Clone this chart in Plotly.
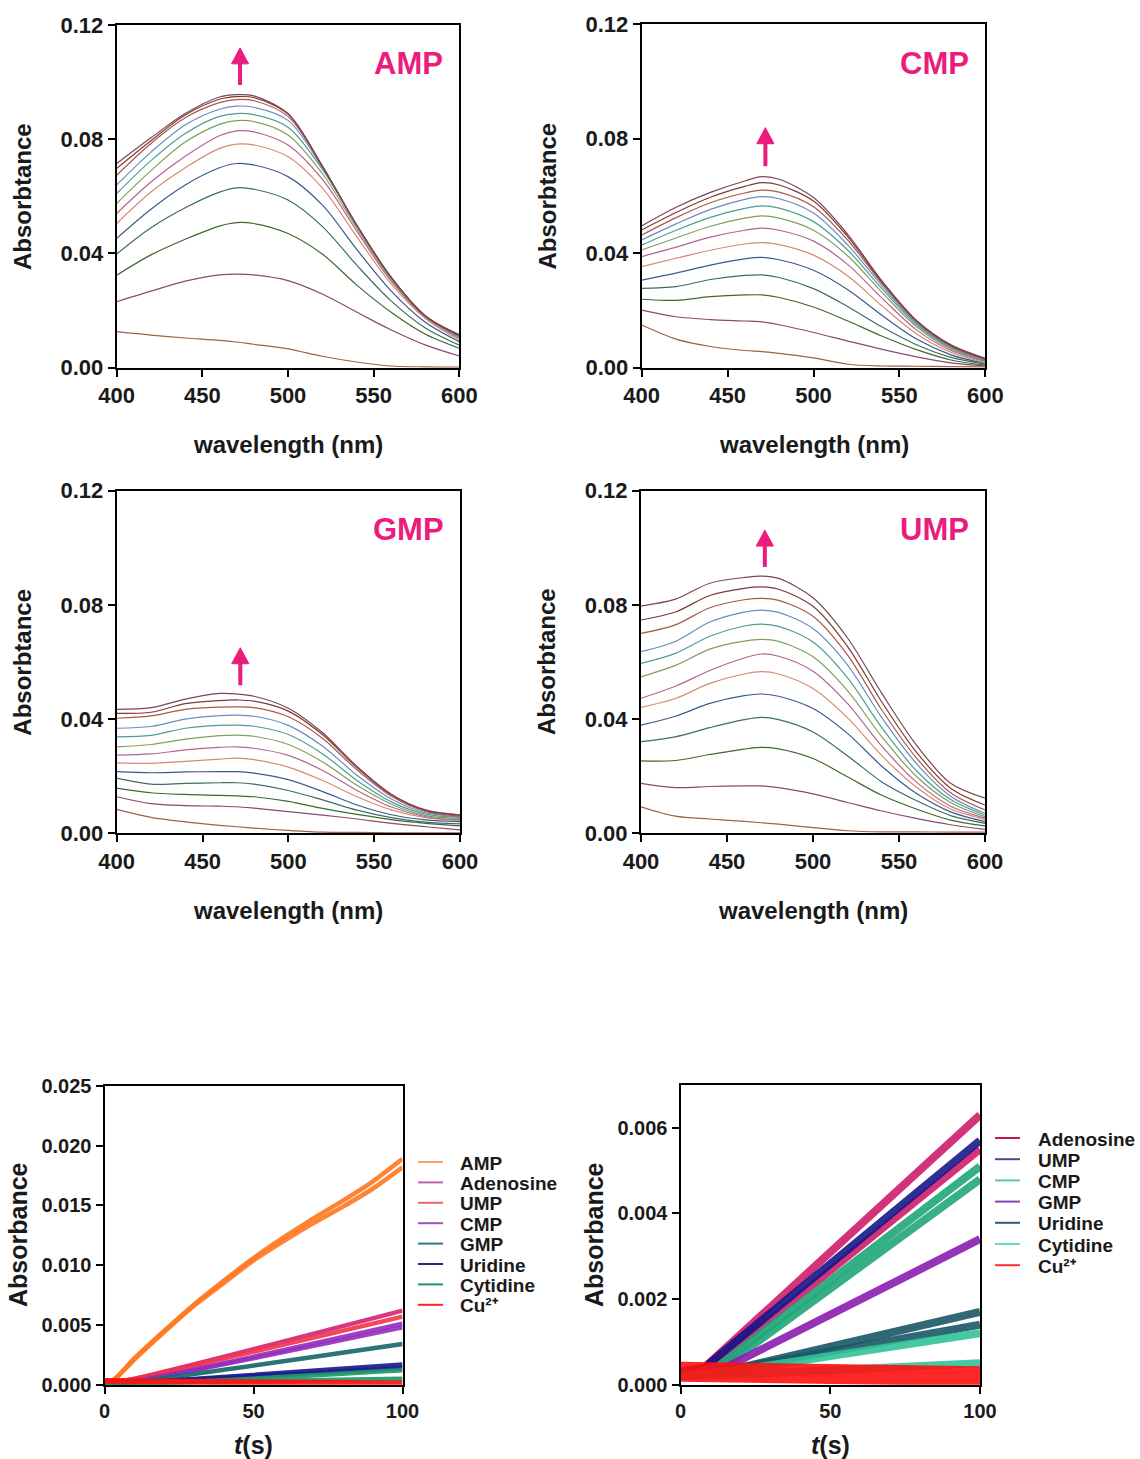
import plotly.graph_objects as go

# ---------------- data ----------------
WL = [400, 420, 440, 460, 470, 480, 500, 520, 540, 560, 580, 600]

AMP_SPECTRA = [
    [.0126, .0114, .0104, .0096, .0090, .0082, .0066, .0040, .0020, .0006, .0003, .0002],
    [.0231, .0268, .0303, .0325, .0328, .0325, .0305, .0258, .0195, .0133, .0080, .0041],
    [.0324, .0395, .0450, .0496, .0508, .0505, .0470, .0398, .0290, .0195, .0118, .0068],
    [.0398, .0490, .0560, .0615, .0630, .0625, .0587, .0495, .0360, .0235, .0140, .0079],
    [.0453, .0555, .0640, .0700, .0715, .0710, .0669, .0570, .0415, .0270, .0160, .0091],
    [.0505, .0615, .0700, .0768, .0783, .0780, .0739, .0630, .0460, .0295, .0173, .0097],
    [.0540, .0650, .0740, .0812, .0829, .0826, .0780, .0660, .0480, .0305, .0178, .0103],
    [.0575, .0690, .0790, .0852, .0865, .0862, .0815, .0680, .0490, .0310, .0180, .0105],
    [.0610, .0725, .0820, .0880, .0890, .0886, .0842, .0695, .0500, .0318, .0182, .0108],
    [.0640, .0755, .0850, .0905, .0916, .0912, .0866, .0702, .0500, .0318, .0182, .0110],
    [.0674, .0785, .0875, .0928, .0939, .0935, .0880, .0705, .0500, .0318, .0182, .0112],
    [.0698, .0795, .0885, .0940, .0949, .0946, .0888, .0706, .0500, .0318, .0182, .0114],
    [.0715, .0805, .0890, .0948, .0956, .0952, .0890, .0707, .0500, .0318, .0182, .0116],
]

CMP_SPECTRA = [
    [.0149, .0100, .0074, .0060, .0056, .0050, .0034, .0012, .0006, .0005, .0004, .0003],
    [.0201, .0178, .0168, .0163, .0160, .0150, .0123, .0093, .0064, .0038, .0017, .0006],
    [.0239, .0235, .0248, .0254, .0254, .0245, .0212, .0163, .0110, .0063, .0027, .0009],
    [.0277, .0283, .0308, .0322, .0324, .0315, .0276, .0213, .0142, .0080, .0036, .0013],
    [.0306, .0330, .0358, .0380, .0385, .0377, .0340, .0272, .0182, .0100, .0045, .0015],
    [.0353, .0382, .0410, .0432, .0437, .0430, .0393, .0320, .0215, .0118, .0054, .0017],
    [.0388, .0421, .0456, .0480, .0487, .0480, .0442, .0360, .0242, .0132, .0060, .0021],
    [.0411, .0453, .0494, .0522, .0530, .0522, .0480, .0390, .0262, .0143, .0065, .0023],
    [.0428, .0480, .0525, .0556, .0565, .0557, .0510, .0410, .0275, .0150, .0069, .0024],
    [.0446, .0502, .0553, .0588, .0597, .0590, .0540, .0428, .0285, .0155, .0072, .0026],
    [.0463, .0524, .0576, .0610, .0620, .0613, .0562, .0445, .0293, .0160, .0075, .0029],
    [.0481, .0542, .0595, .0633, .0646, .0638, .0582, .0457, .0298, .0163, .0078, .0031],
    [.0495, .0560, .0612, .0652, .0667, .0658, .0594, .0465, .0302, .0165, .0080, .0033],
]

GMP_SPECTRA = [
    [.0084, .0056, .0040, .0028, .0023, .0018, .0010, .0004, .0003, .0002, .0002, .0002],
    [.0128, .0104, .0097, .0095, .0093, .0088, .0076, .0064, .0050, .0035, .0023, .0012],
    [.0158, .0142, .0136, .0133, .0131, .0128, .0112, .0087, .0066, .0048, .0035, .0026],
    [.0193, .0172, .0175, .0177, .0177, .0172, .0150, .0117, .0081, .0055, .0039, .0033],
    [.0216, .0212, .0215, .0216, .0216, .0211, .0188, .0146, .0099, .0065, .0047, .0041],
    [.0247, .0245, .0252, .0260, .0263, .0258, .0232, .0185, .0128, .0082, .0055, .0045],
    [.0274, .0278, .0292, .0301, .0303, .0298, .0273, .0220, .0150, .0092, .0058, .0047],
    [.0303, .0311, .0330, .0342, .0344, .0340, .0311, .0250, .0168, .0102, .0062, .0052],
    [.0338, .0343, .0368, .0378, .0379, .0375, .0346, .0278, .0185, .0110, .0067, .0056],
    [.0368, .0374, .0400, .0412, .0414, .0410, .0378, .0305, .0203, .0120, .0072, .0058],
    [.0403, .0411, .0434, .0442, .0443, .0440, .0408, .0332, .0222, .0130, .0077, .0060],
    [.0420, .0424, .0454, .0465, .0467, .0463, .0428, .0345, .0230, .0135, .0080, .0064],
    [.0434, .0440, .0470, .0490, .0488, .0480, .0438, .0352, .0234, .0137, .0082, .0065],
]

UMP_SPECTRA = [
    [.0093, .0060, .0050, .0042, .0037, .0032, .0020, .0009, .0005, .0005, .0004, .0004],
    [.0175, .0160, .0164, .0166, .0166, .0160, .0138, .0108, .0078, .0052, .0030, .0014],
    [.0254, .0255, .0276, .0295, .0301, .0296, .0262, .0198, .0133, .0085, .0046, .0026],
    [.0321, .0338, .0370, .0398, .0406, .0398, .0355, .0272, .0180, .0115, .0062, .0035],
    [.0379, .0410, .0455, .0482, .0488, .0480, .0437, .0350, .0235, .0140, .0075, .0041],
    [.0441, .0472, .0525, .0558, .0566, .0558, .0507, .0405, .0272, .0162, .0085, .0049],
    [.0473, .0515, .0570, .0614, .0628, .0620, .0568, .0455, .0305, .0180, .0095, .0053],
    [.0548, .0588, .0645, .0673, .0679, .0672, .0618, .0500, .0338, .0200, .0108, .0058],
    [.0595, .0630, .0690, .0726, .0733, .0725, .0670, .0545, .0370, .0220, .0118, .0064],
    [.0636, .0672, .0740, .0775, .0782, .0774, .0717, .0590, .0405, .0245, .0130, .0070],
    [.0700, .0730, .0790, .0818, .0823, .0816, .0760, .0625, .0432, .0265, .0142, .0082],
    [.0747, .0775, .0833, .0858, .0863, .0855, .0795, .0655, .0460, .0285, .0158, .0099],
    [.0796, .0820, .0876, .0896, .0901, .0893, .0825, .0685, .0490, .0310, .0175, .0123],
]

PANEL_NAMES = ["AMP", "CMP", "GMP", "UMP"]
ARROW_WL = [472, 472, 472, 472]
ARROW_TAIL = [0.099, 0.0703, 0.0519, 0.0933]
ARROW_TIP = [0.112, 0.0838, 0.0650, 0.1062]

CU = "Cu²⁺"

# kinetics, left panel (t in s, absorbance)
KL_NAMES = ["AMP", "AMP", "Adenosine", "UMP", "CMP", "CMP", "GMP", "Uridine", "Uridine",
            "Cytidine", "Cytidine", CU]
KL_T = [
    [0, 3, 10, 20, 30, 40, 50, 60, 70, 80, 90, 100],
    [0, 3, 10, 20, 30, 40, 50, 60, 70, 80, 90, 100],
    [0, 8, 100], [0, 8, 100], [0, 10, 100], [0, 10, 100], [0, 12, 100],
    [0, 20, 100], [0, 20, 100], [0, 25, 100], [0, 100], [0, 100],
]
KL_Y = [
    [0.0003, 0.0004, 0.0022, 0.0045, 0.0067, 0.0087, 0.0106, 0.0123, 0.0139, 0.0154, 0.0170, 0.0189],
    [0.0003, 0.0004, 0.0021, 0.0044, 0.0066, 0.0085, 0.0104, 0.0120, 0.0135, 0.0149, 0.0164, 0.0182],
    [0.0002, 0.0004, 0.0062], [0.0002, 0.0004, 0.0057], [0.0002, 0.0003, 0.0051],
    [0.0002, 0.0003, 0.0048], [0.0001, 0.0003, 0.0034], [0.0001, 0.0003, 0.0017],
    [0.0001, 0.0003, 0.0014], [0.0001, 0.0002, 0.0012], [0.0001, 0.0005], [0.0003, 0.0001],
]
KL_LEGEND = ["AMP", "Adenosine", "UMP", "CMP", "GMP", "Uridine", "Cytidine", CU]

# kinetics, right panel
KR_NAMES = ["Adenosine", "Adenosine", "UMP", "CMP", "CMP", "GMP", "Uridine", "Uridine",
            "Cytidine", "Cytidine", CU]
KR_T = [[0, 8, 100], [0, 10, 100], [0, 8, 100], [0, 12, 100], [0, 14, 100], [0, 15, 100],
        [0, 20, 100], [0, 20, 100], [0, 25, 100], [0, 40, 100], [0, 100]]
KR_Y = [[0.0003, 0.0004, 0.0063], [0.0003, 0.0004, 0.0055], [0.0003, 0.0004, 0.0057],
        [0.0002, 0.0004, 0.0051], [0.0002, 0.0004, 0.0048], [0.0002, 0.0004, 0.0034],
        [0.0002, 0.0004, 0.0017], [0.0002, 0.0004, 0.0014], [0.0002, 0.0004, 0.0012],
        [0.0002, 0.0003, 0.0005], [0.0003, 0.0002]]
KR_LEGEND = ["Adenosine", "UMP", "CMP", "GMP", "Uridine", "Cytidine", CU]

# ---------------- styles ----------------
SPEC_COLORS = ["#A0604A", "#8A4A6A", "#3F6A2E", "#3A6F66", "#3C5A8A", "#D98A74", "#B5638F",
               "#7FA05A", "#4F9E92", "#6A8CC0", "#A85A48", "#7D3A32", "#7A4656"]
KL_COLOR = {"AMP": "#FF7A22", "Adenosine": "#D42A78", "UMP": "#F23A4E", "CMP": "#9A2FC0",
            "GMP": "#1A6A6E", "Uridine": "#1E1E8E", "Cytidine": "#1E9A66", CU: "#FF1010"}
KL_LEG_COLOR = {"AMP": "#F7A36A", "Adenosine": "#C060B0", "UMP": "#F06070", "CMP": "#A050C0",
                "GMP": "#2E7A80", "Uridine": "#1C2890", "Cytidine": "#1E9A6A", CU: "#FF2020"}
KR_COLOR = {"Adenosine": "#D01E6E", "UMP": "#1A1A8A", "CMP": "#22A87A", "GMP": "#8A1FB0",
            "Uridine": "#1B5A68", "Cytidine": "#30C49A", CU: "#FF1010"}
KR_LEG_COLOR = {"Adenosine": "#C2185B", "UMP": "#4B4B9A", "CMP": "#5CC8A8", "GMP": "#8A3FB8",
                "Uridine": "#2F5F6F", "Cytidine": "#6AD8B8", CU: "#FF3030"}

W, H = 1140, 1459
FONT = "Liberation Sans"
PINK = "#EC1C7C"
INK = "#1a1a1a"


def px_x(p):
    return p / W


def px_y(p):
    return 1 - p / H


fig = go.Figure()

spectra = [AMP_SPECTRA, CMP_SPECTRA, GMP_SPECTRA, UMP_SPECTRA]
for k, data in enumerate(spectra):
    ax = "" if k == 0 else str(k + 1)
    for i, ys in enumerate(data):
        fig.add_trace(go.Scatter(x=WL, y=ys, mode="lines", xaxis="x" + ax, yaxis="y" + ax,
                                 line=dict(color=SPEC_COLORS[i], width=1.2, shape="spline",
                                           smoothing=0.9),
                                 showlegend=False, hoverinfo="skip"))

for n, t, y in zip(KL_NAMES, KL_T, KL_Y):
    w = 6 if n == CU else 4.5
    fig.add_trace(go.Scatter(x=t, y=y, mode="lines", xaxis="x5", yaxis="y5", name=n,
                             showlegend=False, opacity=0.92,
                             line=dict(color=KL_COLOR[n], width=w, shape="spline",
                                       smoothing=0.6)))

for n, t, y in zip(KR_NAMES, KR_T, KR_Y):
    w = 20 if n == CU else 8
    fig.add_trace(go.Scatter(x=t, y=y, mode="lines", xaxis="x6", yaxis="y6", name=n,
                             showlegend=False, opacity=0.9,
                             line=dict(color=KR_COLOR[n], width=w)))

axis_common = dict(showline=True, linecolor="black", linewidth=2, mirror=True,
                   ticks="outside", ticklen=7, tickwidth=2, tickcolor="black",
                   showgrid=False, zeroline=False, automargin=False,
                   tickfont=dict(family=FONT, size=22, color=INK, weight="bold"))

spec_boxes = [(116.7, 459.3, 25, 367.7), (641.7, 985.3, 24, 367.7),
              (116.7, 460.0, 490.7, 833.3), (641.0, 985.0, 490.7, 833.3)]
kin_boxes = [(104.5, 402.5, 1086, 1384.7), (680.5, 980.0, 1085, 1384.7)]

layout = dict(width=W, height=H, margin=dict(l=0, r=0, t=0, b=0, pad=0, autoexpand=False),
              paper_bgcolor="white", plot_bgcolor="white", showlegend=False,
              font=dict(family=FONT, color=INK))

annotations = []
shapes = []
for k, (l, r, t, b) in enumerate(spec_boxes):
    s = "" if k == 0 else str(k + 1)
    layout["xaxis" + s] = dict(axis_common, domain=[px_x(l), px_x(r)], range=[400, 600],
                               tickvals=[400, 450, 500, 550, 600], anchor="y" + s)
    layout["yaxis" + s] = dict(axis_common, domain=[px_y(b), px_y(t)], range=[0, 0.12],
                               tickvals=[0, 0.04, 0.08, 0.12], tickformat=".2f",
                               anchor="x" + s)
    annotations.append(dict(x=px_x((l + r) / 2), y=px_y(b + 77), xref="paper", yref="paper",
                            text="wavelength (nm)", showarrow=False, xanchor="center",
                            yanchor="middle",
                            font=dict(family=FONT, size=24, color=INK, weight="bold")))
    annotations.append(dict(x=px_x(l - 94), y=px_y((t + b) / 2), xref="paper", yref="paper",
                            text="Absorbtance", showarrow=False, textangle=-90,
                            xanchor="center", yanchor="middle",
                            font=dict(family=FONT, size=24, color=INK, weight="bold")))
    annotations.append(dict(x=px_x(r - 14), y=px_y(t + 39), xref="paper", yref="paper",
                            text=PANEL_NAMES[k], showarrow=False, xanchor="right",
                            yanchor="middle",
                            font=dict(family=FONT, size=31, color=PINK, weight="bold")))
    xw, tip, tail = ARROW_WL[k], ARROW_TIP[k], ARROW_TAIL[k]
    head = 0.0056
    half = 5.0
    shapes.append(dict(type="line", xref="x" + s, yref="y" + s, x0=xw, x1=xw, y0=tail,
                       y1=tip - head + 0.001, line=dict(color=PINK, width=4)))
    shapes.append(dict(type="path", xref="x" + s, yref="y" + s,
                       path=f"M {xw - half},{tip - head} L {xw + half},{tip - head} L {xw},{tip} Z",
                       fillcolor=PINK, line=dict(color=PINK, width=1)))

kin_axis = dict(axis_common, tickfont=dict(family=FONT, size=20, color=INK, weight="bold"))
(l, r, t, b) = kin_boxes[0]
layout["xaxis5"] = dict(kin_axis, domain=[px_x(l), px_x(r)], range=[0, 100],
                        tickvals=[0, 50, 100], anchor="y5")
layout["yaxis5"] = dict(kin_axis, domain=[px_y(b), px_y(t)], range=[0, 0.025],
                        tickvals=[0, 0.005, 0.01, 0.015, 0.02, 0.025], tickformat=".3f",
                        anchor="x5")
(l, r, t, b) = kin_boxes[1]
layout["xaxis6"] = dict(kin_axis, domain=[px_x(l), px_x(r)], range=[0, 100],
                        tickvals=[0, 50, 100], anchor="y6")
layout["yaxis6"] = dict(kin_axis, domain=[px_y(b), px_y(t)], range=[0, 0.007],
                        tickvals=[0, 0.002, 0.004, 0.006], tickformat=".3f", anchor="x6")

for (l, r, t, b), xt in zip(kin_boxes, [18, 594]):
    annotations.append(dict(x=px_x((l + r) / 2), y=px_y(1445), xref="paper", yref="paper",
                            text="<i>t</i>(s)", showarrow=False, xanchor="center",
                            yanchor="middle",
                            font=dict(family=FONT, size=25, color=INK, weight="bold")))
    annotations.append(dict(x=px_x(xt), y=px_y(1235), xref="paper", yref="paper",
                            text="Absorbance", showarrow=False, textangle=-90,
                            xanchor="center", yanchor="middle",
                            font=dict(family=FONT, size=25, color=INK, weight="bold")))


def add_legend(names, colors, x_line, x_text, y0, step):
    for i, n in enumerate(names):
        yy = y0 + i * step
        shapes.append(dict(type="line", xref="paper", yref="paper",
                           x0=px_x(x_line), x1=px_x(x_line + 25), y0=px_y(yy), y1=px_y(yy),
                           line=dict(color=colors[n], width=2)))
        annotations.append(dict(x=px_x(x_text), y=px_y(yy + 1), xref="paper", yref="paper",
                                text=n, showarrow=False, xanchor="left", yanchor="middle",
                                font=dict(family=FONT, size=19, color=INK, weight="bold")))


add_legend(KL_LEGEND, KL_LEG_COLOR, 418, 458, 1162, 20.4)
add_legend(KR_LEGEND, KR_LEG_COLOR, 995, 1036, 1138, 21.2)

layout["annotations"] = annotations
layout["shapes"] = shapes

fig.update_layout(**layout)
fig.write_html("out.html")
